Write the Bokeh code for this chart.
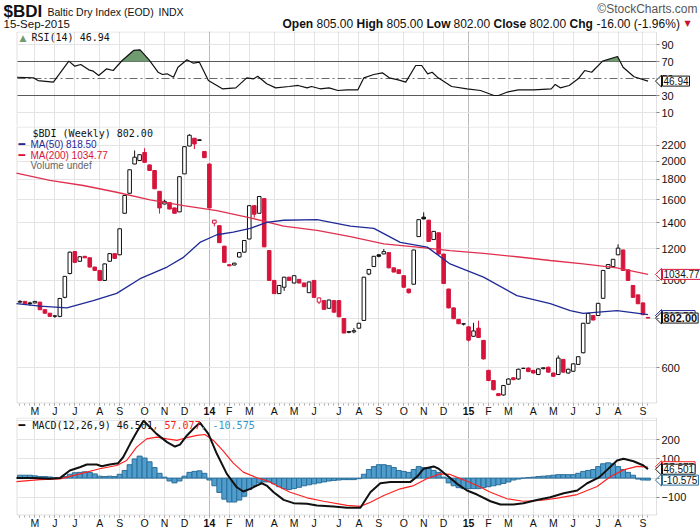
import numpy as np
import pandas as pd
from bokeh.plotting import figure
from bokeh.layouts import column
from bokeh.models import (Range1d, FixedTicker, Label, Grid, LinearAxis, BoxAnnotation,
                          BasicTickFormatter)
from bokeh.embed import file_html
from bokeh.resources import INLINE

# ---------------- data ----------------
first_week = "2013-04-15"
n_weeks = 127
month_labels = ["M", "J", "J", "A", "S", "O", "N", "D", "14", "F", "M", "A", "M", "J", "J",
                "A", "S", "O", "N", "D", "15", "F", "M", "A", "M", "J", "J", "A", "S"]

opens = [880, 884, 876, 876, 880, 842, 825, 812, 810, 905, 1040, 1182, 1117, 1150, 1140, 1080, 1059, 999, 1117, 1168,
         1160, 1478, 1661, 1970, 2011, 2107, 1960, 1897, 1680, 1560, 1573, 1525, 1490, 1860, 2188, 2290, 2260, 2120, 1970, 1395,
         1375, 1220, 1095, 1093, 1145, 1178, 1272, 1545, 1478, 1610, 1189, 999, 925, 960, 1018, 984, 1005, 984, 930, 999,
         880, 888, 849, 888, 888, 800, 738, 740, 756, 791, 1037, 1083, 1160, 1166, 1175, 1075, 1063, 1027, 950, 977,
         1290, 1445, 1420, 1268, 1319, 1165, 950, 851, 796, 774, 762, 721, 756, 704, 591, 557, 516, 512, 545, 566,
         562, 598, 599, 591, 577, 597, 602, 582, 577, 630, 582, 588, 612, 655, 778, 814, 814, 900, 1072, 1083,
         1160, 1193, 1063, 970, 918, 876, 805]
highs = [890, 886, 882, 886, 882, 844, 826, 816, 902, 1025, 1182, 1185, 1150, 1152, 1142, 1082, 1060, 1102, 1170, 1170,
         1352, 1642, 1907, 2132, 2082, 2160, 1962, 1899, 1682, 1600, 1575, 1527, 1832, 2182, 2345, 2292, 2272, 2122, 1972, 1422,
         1377, 1222, 1097, 1107, 1177, 1263, 1547, 1547, 1632, 1612, 1191, 1001, 972, 1020, 1020, 1029, 1007, 986, 992, 1001,
         904, 890, 893, 890, 890, 802, 744, 757, 780, 1020, 1067, 1152, 1162, 1200, 1177, 1077, 1065, 1029, 952, 1195,
         1426, 1486, 1422, 1332, 1321, 1167, 952, 853, 798, 778, 764, 780, 790, 706, 593, 559, 518, 543, 564, 568,
         597, 600, 601, 593, 598, 601, 604, 584, 645, 632, 597, 616, 642, 780, 826, 816, 876, 1061, 1098, 1132,
         1233, 1195, 1065, 972, 920, 878, 805]
lows = [874, 868, 862, 874, 840, 823, 808, 803, 806, 900, 1035, 1105, 1115, 1138, 1078, 1057, 997, 997, 1115, 1134,
        1158, 1476, 1659, 1968, 2009, 1988, 1895, 1703, 1475, 1558, 1513, 1476, 1488, 1858, 2186, 2150, 2258, 2043, 1523, 1370,
        1243, 1108, 1086, 1091, 1143, 1176, 1270, 1440, 1476, 1213, 997, 923, 923, 940, 997, 982, 982, 961, 928, 903,
        870, 842, 847, 828, 806, 733, 734, 734, 754, 789, 1030, 1081, 1143, 1164, 1073, 1047, 1038, 958, 925, 975,
        1288, 1428, 1252, 1266, 1163, 979, 849, 797, 774, 768, 700, 719, 714, 630, 555, 526, 509, 510, 543, 558,
        560, 596, 585, 580, 575, 595, 583, 569, 575, 583, 580, 586, 610, 653, 776, 791, 812, 898, 1070, 1081,
        1158, 1057, 997, 903, 870, 816, 802]
closes = [884, 872, 872, 884, 842, 825, 810, 811, 899, 1023, 1178, 1110, 1147, 1140, 1080, 1059, 999, 1100, 1168, 1136,
          1350, 1640, 1905, 2050, 2080, 1990, 1897, 1705, 1525, 1585, 1515, 1478, 1830, 2180, 2330, 2215, 2270, 2045, 1525, 1420,
          1245, 1110, 1088, 1105, 1175, 1261, 1545, 1470, 1630, 1215, 999, 925, 970, 1018, 999, 1027, 984, 963, 990, 905,
          902, 844, 891, 830, 808, 735, 741, 745, 778, 1018, 1065, 1150, 1150, 1182, 1075, 1049, 1040, 960, 930, 1193,
          1424, 1430, 1254, 1330, 1165, 981, 851, 799, 776, 776, 705, 744, 716, 632, 557, 528, 510, 541, 562, 560,
          595, 598, 587, 582, 596, 600, 585, 571, 635, 585, 595, 614, 640, 778, 824, 793, 874, 1059, 1096, 1130,
          1206, 1059, 999, 905, 872, 818, 802]

ma50_weeks = [-0.7, 4, 9.4, 14.7, 19.4, 24.1, 29.5, 32.8, 36.1, 39.5, 42.8, 46.2, 49.5, 52.9, 59.6, 66.3, 71, 76.3,
              81.7, 86.3, 93, 99.7, 106.4, 110.4, 113, 119.8, 126]
ma50_vals = [872, 860, 851, 888, 926, 1009, 1080, 1143, 1247, 1304, 1324, 1353, 1402, 1419, 1425, 1372, 1353, 1247,
             1213, 1100, 1018, 914, 872, 838, 824, 838, 818.5]
ma200_weeks = [-0.7, 6, 12.7, 19.4, 26.1, 32.8, 39.5, 46.2, 52.9, 59.6, 66.3, 73, 79.7, 86.3, 93, 99.7, 106.4, 113,
               119.8, 126]
ma200_vals = [1867, 1790, 1738, 1671, 1598, 1545, 1502, 1439, 1372, 1337, 1289, 1237, 1213, 1189, 1170, 1147, 1122,
              1100, 1075, 1034.77]

rsi_weeks = [-0.6, 2.7, 3.6, 6.7, 9.8, 11.0, 12.2, 13.8, 14.7, 15.8, 17.4, 18.7, 20.5, 22.8, 24.1, 25.9, 27.7, 28.6,
             29.5, 30.8, 31.7, 33.5, 34.8, 36.0, 37.8, 40.6, 43.3, 45.5, 46.9, 47.7, 49.5, 51.3, 54.0, 55.8, 57.6, 58.5,
             60.2, 62.0, 63.8, 65.6, 67.8, 69.0, 71.0, 72.7, 74.1, 75.9, 77.4, 79.4, 80.6, 81.8, 82.7, 83.9, 86.6, 89.7,
             92.4, 95.1, 96.0, 97.7, 100.0, 103.1, 106.6, 107.4, 108.4, 110.2, 112.0, 113.3, 114.7, 116.9, 119.9, 121.0,
             123.2, 126.0]
rsi_vals = [51.5, 50.8, 47.6, 45.7, 70.4, 64.5, 66.5, 60.2, 58.6, 53.5, 61.4, 59.4, 71.2, 83.0, 83.7, 72.0, 57.4, 54.7,
            55.5, 51.5, 63.3, 72.0, 68.0, 69.2, 47.6, 37.9, 39.0, 50.8, 49.6, 52.7, 43.8, 39.0, 40.6, 41.8, 39.0, 40.6,
            37.9, 39.0, 35.9, 36.7, 36.7, 50.8, 54.7, 56.7, 50.8, 48.4, 45.7, 65.3, 65.3, 55.5, 57.4, 50.8, 40.6, 37.9,
            35.9, 30.0, 30.0, 33.9, 36.7, 36.7, 37.9, 43.0, 39.0, 41.8, 49.6, 59.4, 57.4, 70.4, 75.9, 63.3,
            52.0, 46.94]

macd_weeks = [-0.7, 2.7, 6, 8, 10, 12, 13.4, 15.4, 16.4, 18, 19.7, 20.7, 22.1, 23.4, 24.8, 27.4, 29.5, 31.1, 32.1,
              33.5, 34.8, 36.1, 37.8, 39.5, 41.5, 43.5, 44.8, 46.2, 47.5, 48.5, 49.5, 50.9, 52.9, 54.9, 57.6, 59.6,
              62.9, 65.6, 68.3, 70.3, 72.3, 74.3, 76.3, 78.3, 79.7, 81, 83, 84, 85.7, 87.7, 89.7, 91.7, 94.4, 96.4,
              99, 101, 103.7, 106.4, 109.1, 111.8, 113.8, 116.1, 117.8, 119.8, 121.1, 123.1, 125.1, 126]
macd_vals = [0, 0, -4, 0, 40, 57, 71, 71, 62, 71, 78, 109, 179, 240, 300, 231, 188, 165, 175, 223, 258, 290, 231, 127,
             22, -48, -70, -56, -39, -27, -39, -74, -114, -131, -134, -143, -148, -155, -155, -74, -27, -21, -21, -21,
             8, 49, 61, 49, 14, -30, -65, -86, -121, -138, -138, -131, -114, -100, -79, -65, -27, 2, 43, 92, 101, 88,
             66, 46.501]
signal_weeks = [-0.7, 4, 8, 12, 16, 19.4, 21.4, 23.4, 25.4, 27.4, 29.5, 31.5, 33.5, 35.5, 37.1, 38.8, 40.8, 42.8, 44.8,
                47.5, 49.5, 51.5, 54.2, 57.6, 60.9, 65.6, 68.3, 70.3, 73, 76.3, 79, 81.7, 84.3, 86.3, 89, 91.7, 94.4,
                97.7, 101, 104.4, 107.8, 111.8, 115.8, 118.5, 121.1, 123.8, 126]
signal_vals = [-18, -8, -4, 22, 49, 66, 92, 162, 205, 214, 205, 197, 212, 223, 228, 197, 141, 78, 31, 2, -13, -39, -74,
               -103, -121, -143, -148, -126, -91, -56, -39, -2, 22, 19, -9, -39, -74, -108, -121, -117, -105, -86, -44,
               8, 43, 61, 57.077]
hist_vals = [15, 15, 15, 12, 8, 8, 6, 2, -2, 8, 20, 28, 30, 33, 30, 22, 10, 8, 10, 8,
             20, 40, 70, 100, 115, 105, 85, 55, 25, 5, -15, -25, -15, 10, 30, 35, 38, 25, -10, -40,
             -75, -110, -125, -125, -115, -95, -60, -40, -25, -20, -20, -30, -45, -55, -60, -55, -48, -40, -35, -30,
             -25, -20, -15, -12, -10, -8, -8, -8, -3, 20, 45, 60, 70, 70, 65, 55, 40, 35, 30, 45,
             60, 55, 50, 40, 30, 5, -25, -40, -50, -55, -55, -55, -55, -50, -45, -40, -35, -28, -20, -10,
             -5, 0, 3, 5, 8, 10, 12, 15, 18, 18, 18, 18, 25, 35, 40, 45, 60, 75, 80, 75,
             60, 45, 30, 15, -5, -10, -10.575]

rsi_ticks = [10, 30, 50, 70, 90]
price_ticks = [600, 800, 1000, 1200, 1400, 1600, 1800, 2000, 2200]
macd_ticks = [-100, 0, 100, 200]

# ---------------- geometry (pixels of the 700x530 page) ----------------
FONT = "Liberation Sans"
MONO = "DejaVu Sans Mono"
RED = "#d6143c"
GRID = "#e4e4e4"
YEARGRID = "#bcbcbc"
OUTLINE = "#9c9c9c"

X0_PX, W0, PXW = 16.0, -0.7, 4.984


def wk(px):
    return W0 + (px - X0_PX) / PXW


def xpx(w):
    return X0_PX + (w - W0) * PXW


x_range = Range1d(wk(0), wk(700))
PANEL_L, PANEL_R = wk(16.5), wk(656)


def rsi_py(v):
    return 61 + (70 - v) * 0.85


def rsi_val(py):
    return 70 - (py - 61) / 0.85


def px_py(v):
    return 367.3 - 171.4 * (np.log(v) - np.log(600))


def px_val(py):
    return float(600 * np.exp((367.3 - py) / 171.4))


def macd_py(v):
    return 477.6 - 0.1913 * v


def macd_val(py):
    return (477.6 - py) / 0.1913


week_dates = pd.date_range(first_week, periods=n_weeks, freq="W-MON")
idx = np.arange(n_weeks)
month_ticks = [int(i) for i in range(1, n_weeks) if week_dates[i].month != week_dates[i - 1].month]
year_ticks = [int(i) for i in month_ticks if week_dates[i].month == 1]
overrides = {t: (lab if t not in year_ticks else "") for t, lab in zip(month_ticks, month_labels)}


def plain_fig(height, y_range, y_type="linear"):
    p = figure(width=700, height=height, x_range=x_range, y_range=y_range, y_axis_type=y_type,
               output_backend="svg", toolbar_location=None, x_axis_location=None, y_axis_location=None,
               min_border=0)
    p.outline_line_color = None
    p.background_fill_color = "white"
    p.border_fill_color = "white"
    p.xgrid.visible = False
    p.ygrid.visible = False
    return p


def add_grid(p, dim, ticks, color, cross, dash="solid"):
    p.add_layout(Grid(dimension=dim, ticker=FixedTicker(ticks=ticks), grid_line_color=color,
                      grid_line_dash=dash, cross_bounds=cross, level="underlay"))


def label(p, top, x, py, text, size="11px", font=FONT, color="#111111", style="normal", align="left", **kw):
    p.add_layout(Label(x=x, y=py - top, x_units="canvas", y_units="canvas", text=text, text_font=font,
                       text_font_size=size, text_color=color, text_font_style=style, text_align=align,
                       text_baseline="middle", **kw))


def panel(top, bottom, val, yticks, grid_ticks, axis_py=None, y_type="linear"):
    p = plain_fig(bottom - top, Range1d(val(bottom), val(top)), y_type)
    box_bottom = axis_py if axis_py is not None else bottom + 1
    cross_y = (val(box_bottom), val(top))
    add_grid(p, 0, month_ticks, GRID, cross_y)
    add_grid(p, 0, year_ticks, YEARGRID, cross_y)
    add_grid(p, 1, grid_ticks, GRID, (PANEL_L, PANEL_R))
    p.add_layout(BoxAnnotation(left=PANEL_L, right=PANEL_R, top=val(top + 0.5), bottom=val(box_bottom),
                               fill_color=None, line_color=OUTLINE, line_width=1, level="underlay"))
    ya = LinearAxis(fixed_location=PANEL_R, ticker=FixedTicker(ticks=yticks),
                    formatter=BasicTickFormatter(use_scientific=False))
    ya.axis_line_color = None
    ya.major_tick_out = 3
    ya.major_tick_in = 0
    ya.minor_tick_out = 0
    ya.major_label_standoff = 2
    ya.major_label_text_font = FONT
    ya.major_label_text_font_size = "11px"
    ya.major_label_text_color = "#111111"
    ya.major_tick_line_color = "#888888"
    p.add_layout(ya, "right")
    if axis_py is not None:
        xa = LinearAxis(fixed_location=val(axis_py),
                        ticker=FixedTicker(ticks=month_ticks, minor_ticks=[int(i) for i in idx]))
        xa.major_label_overrides = overrides
        xa.axis_line_color = None
        xa.major_tick_out = 2
        xa.major_tick_in = 0
        xa.minor_tick_out = 2
        xa.minor_tick_in = 0
        xa.major_tick_line_color = "#999999"
        xa.minor_tick_line_color = "#aaaaaa"
        xa.major_label_standoff = 0
        xa.major_label_text_font = FONT
        xa.major_label_text_font_size = "10.5px"
        xa.major_label_text_color = "#111111"
        p.add_layout(xa, "below")
        for t, lab in zip(month_ticks, month_labels):
            if t in year_ticks:
                label(p, top, xpx(t), axis_py + 8, lab, size="10.5px", style="bold", align="center")
    return p


def value_boxes(p, top, val, py_of, boxes):
    # boxes: (value, text, border colour, bold, vertical nudge in px)
    for v, text, border, bold, nudge in boxes:
        py = py_of(v) + nudge
        xs = [wk(655), wk(661), wk(661)]
        ys = [val(py), val(py - 6), val(py + 6)]
        p.patch(xs, ys, fill_color="white", line_color=border, line_width=1)
        label(p, top, 662, py, text, size=("11px" if bold else "10px"), style=("bold" if bold else "normal"),
              background_fill_color="white", border_line_color=border, border_line_width=1, padding=1)


def band(xs, ys, level, above=True):
    fx, fy = [], []
    for k in range(len(xs)):
        if k > 0:
            y0, y1 = ys[k - 1], ys[k]
            if (y0 - level) * (y1 - level) < 0:
                t = (level - y0) / (y1 - y0)
                fx.append(xs[k - 1] + t * (xs[k] - xs[k - 1]))
                fy.append(level)
        fx.append(xs[k])
        fy.append(max(ys[k], level) if above else min(ys[k], level))
    return np.array(fx), np.array(fy)


# ---------------- header ----------------
HEAD_H = 31
p_head = figure(width=700, height=HEAD_H, x_range=Range1d(0, 700), y_range=Range1d(0, HEAD_H),
                output_backend="svg", toolbar_location=None, x_axis_location=None, y_axis_location=None,
                min_border=0)
p_head.outline_line_color = None
p_head.xgrid.visible = False
p_head.ygrid.visible = False
label(p_head, 0, 3, 11, "$BDI", size="17px", style="bold")
label(p_head, 0, 47, 11, "Baltic Dry Index (EOD)", size="10.5px")
label(p_head, 0, 158, 11, "INDX", size="10.5px")
label(p_head, 0, 697, 8, "\u00a9StockCharts.com", size="12px", color="#555555", align="right")
label(p_head, 0, 3, 23, "15-Sep-2015", size="11.5px")
parts = [("Open", True, 282), ("805.00", False, 316), ("High", True, 356), ("805.00", False, 386),
         ("Low", True, 426), ("802.00", False, 453), ("Close", True, 493), ("802.00", False, 529),
         ("Chg", True, 569), ("-16.00 (-1.96%)", False, 596)]
for txt, bold, xx in parts:
    label(p_head, 0, xx, 23, txt, size="12px", style=("bold" if bold else "normal"))
label(p_head, 0, 684, 23, "\u25bc", size="8px", color="#c8102e", font="DejaVu Sans")

# ---------------- RSI ----------------
RSI_TOP, RSI_BOT = HEAD_H, 126
p_rsi = panel(RSI_TOP, RSI_BOT, rsi_val, rsi_ticks, [10, 90])
add_grid(p_rsi, 1, [30, 70], "#5a5a5a", (PANEL_L, PANEL_R))
add_grid(p_rsi, 1, [50], "#6a6a6a", (PANEL_L, PANEL_R), dash="8 3 2 3")
GREEN = "#709b70"
fx, fy = band(rsi_weeks, rsi_vals, 70, True)
p_rsi.varea(x=fx, y1=70, y2=fy, fill_color=GREEN)
fx2, fy2 = band(rsi_weeks, rsi_vals, 30, False)
p_rsi.varea(x=fx2, y1=fy2, y2=30, fill_color=GREEN)
p_rsi.line(rsi_weeks, rsi_vals, line_color="#111111", line_width=1.2)
value_boxes(p_rsi, RSI_TOP, rsi_val, rsi_py, [(rsi_vals[-1], "46.94", "#111111", False, 0)])
label(p_rsi, RSI_TOP, 19, 37, "\u25b2", size="9px", color=GREEN, font="DejaVu Sans")
label(p_rsi, RSI_TOP, 31, 37, "RSI(14) 46.94", size="10px", font=MONO)

# ---------------- price ----------------
PX_TOP, PX_BOT, PX_AXIS = 126, 417, 402.5
p_px = panel(PX_TOP, PX_BOT, px_val, price_ticks, price_ticks, axis_py=PX_AXIS, y_type="log")
o = np.array(opens, dtype=float)
c = np.array(closes, dtype=float)
h = np.array(highs, dtype=float)
l = np.array(lows, dtype=float)
prev = np.concatenate([[c[0]], c[:-1]])
edge = np.where(c >= prev, "#111111", RED)
fill = np.where(c > o, "white", edge)
p_px.segment(x0=idx, y0=h, x1=idx, y1=l, line_color=edge, line_width=1)
p_px.vbar(x=idx, width=0.72, top=np.maximum(o, c), bottom=np.minimum(o, c), fill_color=fill, line_color=edge,
          line_width=1)
p_px.line(ma200_weeks, ma200_vals, line_color="#e0304f", line_width=1.3)
p_px.line(ma50_weeks, ma50_vals, line_color="#1f2a96", line_width=1.3)
value_boxes(p_px, PX_TOP, px_val, px_py, [
    (ma200_vals[-1], "1034.77", RED, False, 0),
    (closes[-1], "818.50", "#1f2a96", False, -2.5),
    (closes[-1], "802.00", "#111111", True, 0)])
label(p_px, PX_TOP, 32, 133, "$BDI (Weekly) 802.00", size="10px", font=MONO)
label(p_px, PX_TOP, 18, 144, "\u2501", size="11px", font=MONO, color="#1f2a96")
label(p_px, PX_TOP, 30, 144, "MA(50) 818.50", size="10px", color="#1f2a96")
label(p_px, PX_TOP, 18, 155, "\u2501", size="11px", font=MONO, color=RED)
label(p_px, PX_TOP, 30, 155, "MA(200) 1034.77", size="10px", color=RED)
label(p_px, PX_TOP, 30, 165, "Volume undef", size="10px", color="#666666")

# ---------------- MACD ----------------
MACD_TOP, MACD_BOT, MACD_AXIS = 417, 530, 514.5
p_macd = panel(MACD_TOP, MACD_BOT, macd_val, macd_ticks, [-100, 0, 100, 200, 300], axis_py=MACD_AXIS)
p_macd.vbar(x=idx, width=1.0, top=hist_vals, bottom=0, fill_color="#4f9dcc", line_color="#2b6e99", line_width=1)
p_macd.line(signal_weeks, signal_vals, line_color="#ff2020", line_width=1.2)
p_macd.line(macd_weeks, macd_vals, line_color="#111111", line_width=2)
value_boxes(p_macd, MACD_TOP, macd_val, macd_py, [
    (macd_vals[-1], "57.077", "#ff2020", False, -2.5),
    (macd_vals[-1], "46.501", "#111111", False, 0),
    (hist_vals[-1], "-10.575", "#2b6e99", False, 0)])
label(p_macd, MACD_TOP, 18, 425, "\u2501", size="11px", font=MONO, color="#111111")
label(p_macd, MACD_TOP, 32, 425, "MACD(12,26,9) 46.501", size="10px", font=MONO)
label(p_macd, MACD_TOP, 152, 425, ", 57.077", size="10px", font=MONO, color="#ff2020")
label(p_macd, MACD_TOP, 200, 425, ", -10.575", size="10px", font=MONO, color="#3399cc")

layout = column(p_head, p_rsi, p_px, p_macd, spacing=0)
open("out.html", "w").write(file_html(layout, INLINE))
